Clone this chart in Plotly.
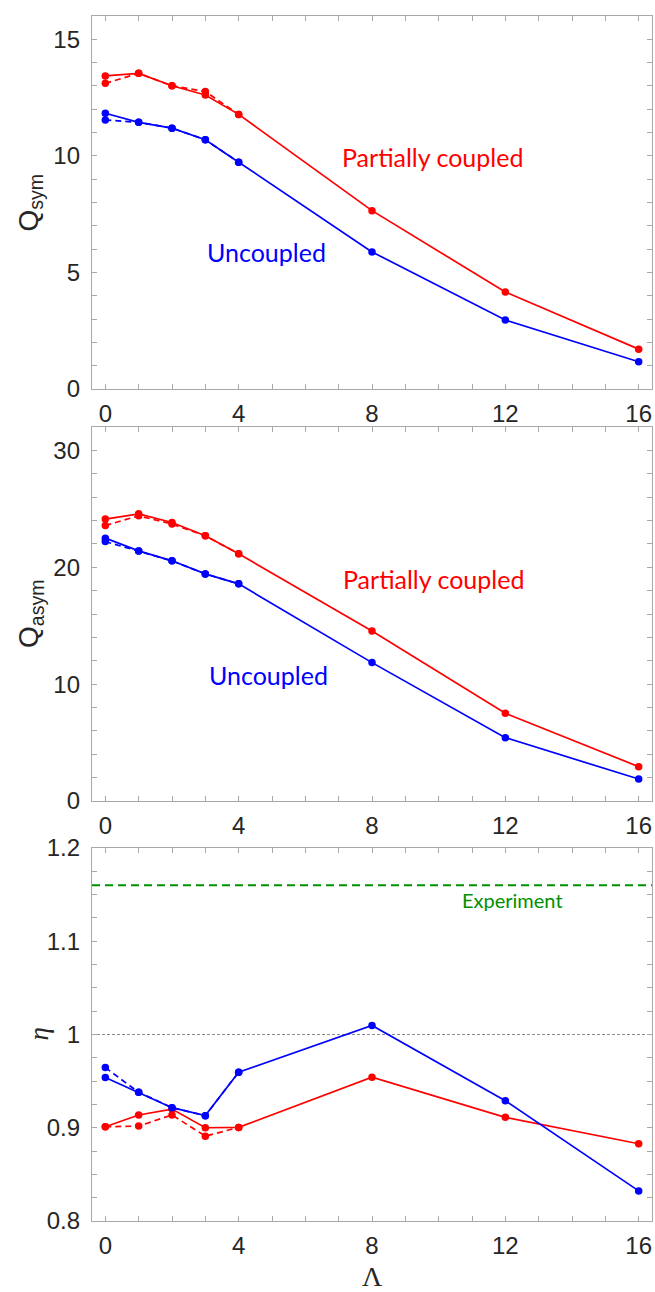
import plotly.graph_objects as go

# ---------------- data ----------------
lam = [0, 1, 2, 3, 4, 8, 12, 16]
lam_d = [0, 1, 2, 3, 4]

qsym_pc = [13.43, 13.54, 13.01, 12.61, 11.78, 7.65, 4.16, 1.71]
qsym_pc_d = [13.11, 13.54, 13.01, 12.76, 11.78]
qsym_un = [11.83, 11.44, 11.19, 10.69, 9.73, 5.88, 2.96, 1.17]
qsym_un_d = [11.54, 11.44, 11.19, 10.69, 9.73]

qasym_pc = [24.12, 24.57, 23.83, 22.69, 21.15, 14.55, 7.51, 2.94]
qasym_pc_d = [23.57, 24.40, 23.70, 22.69, 21.15]
qasym_un = [22.49, 21.40, 20.55, 19.43, 18.58, 11.84, 5.42, 1.88]
qasym_un_d = [22.20, 21.40, 20.55, 19.43, 18.58]

eta_pc = [0.901, 0.9137, 0.920, 0.900, 0.9004, 0.9542, 0.9112, 0.8828]
eta_pc_d = [0.901, 0.9018, 0.9137, 0.891, 0.9004]
eta_un = [0.954, 0.938, 0.9215, 0.913, 0.9596, 1.0097, 0.929, 0.8323]
eta_un_d = [0.9645, 0.938, 0.9215, 0.913, 0.9596]

eta_exp = 1.16
eta_ref = 1.0

x_tickvals = list(range(0, 17))
x_ticktext = [str(v) if v % 4 == 0 else "" for v in x_tickvals]
y1_tickvals = list(range(0, 17))
y1_ticktext = [str(v) if v % 5 == 0 else "" for v in y1_tickvals]
y2_tickvals = list(range(0, 33, 2))
y2_ticktext = [str(v) if v % 10 == 0 else "" for v in y2_tickvals]
y3_tickvals = [0.8 + 0.025 * i for i in range(17)]
y3_ticktext = ["0.8", "", "", "", "0.9", "", "", "", "1", "", "", "", "1.1", "", "", "", "1.2"]

RED = "#ff0000"
BLUE = "#0000ff"
GREEN = "#009000"
AXC = "#a8a8a8"
TXT = "#262626"

fig = go.Figure()

panels = [
    ("x", "y", qsym_pc, qsym_pc_d, qsym_un, qsym_un_d),
    ("x2", "y2", qasym_pc, qasym_pc_d, qasym_un, qasym_un_d),
    ("x3", "y3", eta_pc, eta_pc_d, eta_un, eta_un_d),
]
for xa, ya, pc, pcd, un, und in panels:
    for yv, xv, col, dash in [
        (pcd, lam_d, RED, "6px,4px"),
        (und, lam_d, BLUE, "6px,4px"),
        (pc, lam, RED, "solid"),
        (un, lam, BLUE, "solid"),
    ]:
        fig.add_trace(go.Scatter(
            x=xv, y=yv, xaxis=xa, yaxis=ya, mode="lines+markers",
            line=dict(color=col, width=1.7, dash=dash),
            marker=dict(color=col, size=7.5, symbol="circle"),
            showlegend=False, hoverinfo="skip",
        ))

H = 1292.0
top, bot = 16.0, 71.0
ph = H - top - bot


def dom(y0, y1):
    return [1 - (y1 - top) / ph, 1 - (y0 - top) / ph]


common_x = dict(range=[-0.4, 16.4], tickmode="array", tickvals=x_tickvals, ticktext=x_ticktext,
                ticks="inside", ticklen=5, tickwidth=1, tickcolor=AXC, showline=True, linecolor=AXC,
                linewidth=1.3, mirror="allticks", showgrid=False, zeroline=False,
                tickfont=dict(family="Liberation Sans, Arial", size=24, color=TXT),
                ticklabelstandoff=3)
common_y = dict(ticks="inside", ticklen=5, tickwidth=1, tickcolor=AXC, showline=True, linecolor=AXC,
                linewidth=1.3, mirror="allticks", showgrid=False, zeroline=False, tickmode="array",
                tickfont=dict(family="Liberation Sans, Arial", size=24, color=TXT),
                ticklabelstandoff=6)

fig.update_layout(
    width=655, height=1292,
    margin=dict(l=92, r=3, t=16, b=71),
    paper_bgcolor="white", plot_bgcolor="white",
    xaxis=dict(common_x, domain=[0, 1], anchor="y"),
    yaxis=dict(common_y, domain=dom(16, 389), range=[0, 16], tickvals=y1_tickvals, ticktext=y1_ticktext, anchor="x"),
    xaxis2=dict(common_x, domain=[0, 1], anchor="y2"),
    yaxis2=dict(common_y, domain=dom(427, 801), range=[0, 32], tickvals=y2_tickvals, ticktext=y2_ticktext, anchor="x2"),
    xaxis3=dict(common_x, domain=[0, 1], anchor="y3"),
    yaxis3=dict(common_y, domain=dom(848, 1221), range=[0.8, 1.2], tickvals=y3_tickvals, ticktext=y3_ticktext, anchor="x3"),
)

# reference lines
fig.add_shape(type="line", xref="x3 domain", yref="y3", x0=0, x1=1, y0=eta_ref, y1=eta_ref,
              line=dict(color="#8c8c8c", width=1, dash="3px,2px"), layer="below")
fig.add_shape(type="line", xref="x3 domain", yref="y3", x0=0, x1=1, y0=eta_exp, y1=eta_exp,
              line=dict(color=GREEN, width=2, dash="8px,5px"))

LBL = "Lato, Open Sans, sans-serif"
ann = [
    dict(x=9.8, y=9.96, xref="x", yref="y", text="Partially coupled", font=dict(color=RED, size=25, family=LBL)),
    dict(x=4.82, y=5.88, xref="x", yref="y", text="Uncoupled", font=dict(color=BLUE, size=25, family=LBL)),
    dict(x=9.83, y=19.0, xref="x2", yref="y2", text="Partially coupled", font=dict(color=RED, size=25, family=LBL)),
    dict(x=4.88, y=10.8, xref="x2", yref="y2", text="Uncoupled", font=dict(color=BLUE, size=25, family=LBL)),
    dict(x=12.2, y=1.1438, xref="x3", yref="y3", text="Experiment", font=dict(color=GREEN, size=20, family=LBL)),
    dict(x=(30 - 92) / 560.0, y=(dom(16, 389)[0] + dom(16, 389)[1]) / 2, xref="paper", yref="paper",
         text="Q<sub>sym</sub>", textangle=-90, font=dict(color=TXT, size=28, family="Liberation Sans, Arial")),
    dict(x=(30 - 92) / 560.0, y=(dom(427, 801)[0] + dom(427, 801)[1]) / 2, xref="paper", yref="paper",
         text="Q<sub>asym</sub>", textangle=-90, font=dict(color=TXT, size=28, family="Liberation Sans, Arial")),
    dict(x=(38 - 92) / 560.0, y=(dom(848, 1221)[0] + dom(848, 1221)[1]) / 2, xref="paper", yref="paper",
         text="<i>η</i>", textangle=-90, font=dict(color=TXT, size=27, family="Liberation Serif, Times New Roman")),
    dict(x=0.5, y=-(1276 - 1221) / ph, xref="paper", yref="paper",
         text="Λ", font=dict(color=TXT, size=28, family="Liberation Serif, Times New Roman")),
]
for a in ann:
    a.update(showarrow=False, xanchor="center", yanchor="middle")
    fig.add_annotation(**a)

fig.write_html("out.html")
